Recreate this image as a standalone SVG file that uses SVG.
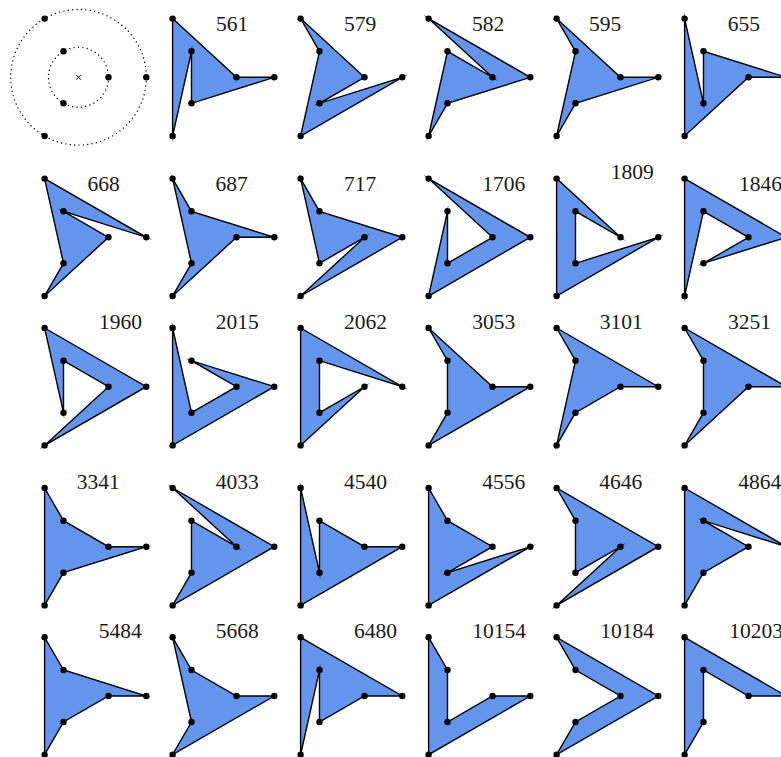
<svg xmlns="http://www.w3.org/2000/svg" xmlns:xlink="http://www.w3.org/1999/xlink" width="781" height="757" viewBox="0 0 781 757">
<style>
.poly{fill:#6495ED;stroke:#000;stroke-width:1.4;stroke-linejoin:miter;stroke-miterlimit:10}
.dot{fill:#000}
.lbl{font-family:"Liberation Serif","DejaVu Serif",serif;font-size:21.5px;fill:#1a1a1a;text-anchor:middle}
.circ{fill:none;stroke:#000;stroke-width:1.4;stroke-linecap:round;stroke-dasharray:0.01 4.4}
</style>
<defs>
<g id="pts">
<circle class="dot" cx="67.8" cy="0" r="3.2"/>
<circle class="dot" cx="-33.9" cy="-58.7" r="3.2"/>
<circle class="dot" cx="-33.9" cy="58.7" r="3.2"/>
<circle class="dot" cx="30" cy="0" r="3.2"/>
<circle class="dot" cx="-15" cy="-26" r="3.2"/>
<circle class="dot" cx="-15" cy="26" r="3.2"/>
</g>
</defs>
<rect width="781" height="757" fill="#fff"/>
<g id="legend" transform="translate(78.5,77.3)">
<circle class="circ" cx="0" cy="0" r="67.8"/>
<circle class="circ" cx="0" cy="0" r="30"/>
<path d="M-2.5,-2.5L2.5,2.5M-2.5,2.5L2.5,-2.5" stroke="#000" stroke-width="0.9"/>
<use href="#pts"/>
</g>
<g id="connectors"></g>
<!-- row 1 -->
<g id="n561" transform="translate(206.5,77.3)">
<polygon class="poly" points="-33.9,-58.7 30,0 67.8,0 -15,26 -15,-26 -33.9,58.7"/>
<use href="#pts"/><text class="lbl" x="25.5" y="-46.8">561</text></g>
<g id="n579" transform="translate(334.5,77.3)">
<polygon class="poly" points="-33.9,-58.7 30,0 -15,26 67.8,0 -33.9,58.7 -15,-26"/>
<use href="#pts"/><text class="lbl" x="25.5" y="-46.8">579</text></g>
<g id="n582" transform="translate(462.5,77.3)">
<polygon class="poly" points="-33.9,-58.7 30,0 -15,-26 -33.9,58.7 -15,26 67.8,0"/>
<use href="#pts"/><text class="lbl" x="25.5" y="-46.8">582</text></g>
<g id="n595" transform="translate(590.5,77.3)">
<polygon class="poly" points="-33.9,-58.7 -15,-26 -33.9,58.7 -15,26 67.8,0 30,0"/>
<use href="#pts"/><text class="lbl" x="14.5" y="-46.8">595</text></g>
<g id="n655" transform="translate(718.5,77.3)">
<polygon class="poly" points="-33.9,-58.7 -15,26 -15,-26 67.8,0 30,0 -33.9,58.7"/>
<use href="#pts"/><text class="lbl" x="25.3" y="-46.8">655</text></g>
<!-- row 2 -->
<g id="n668" transform="translate(78.5,237.3)">
<polygon class="poly" points="-33.9,-58.7 67.8,0 -15,-26 30,0 -33.9,58.7 -15,26"/>
<use href="#pts"/><text class="lbl" x="25.2" y="-46.6">668</text></g>
<g id="n687" transform="translate(206.5,237.3)">
<polygon class="poly" points="-33.9,-58.7 -15,-26 67.8,0 30,0 -33.9,58.7 -15,26"/>
<use href="#pts"/><text class="lbl" x="25.2" y="-46.6">687</text></g>
<g id="n717" transform="translate(334.5,237.3)">
<polygon class="poly" points="-33.9,-58.7 -15,-26 67.8,0 -33.9,58.7 30,0 -15,26"/>
<use href="#pts"/><text class="lbl" x="25.5" y="-46.6">717</text></g>
<g id="n1706" transform="translate(462.5,237.3)">
<polygon class="poly" points="-33.9,-58.7 30,0 -15,26 -15,-26 -33.9,58.7 67.8,0"/>
<use href="#pts"/><text class="lbl" x="41.3" y="-46.6">1706</text></g>
<g id="n1809" transform="translate(590.5,237.3)">
<polygon class="poly" points="-33.9,-58.7 30,0 -15,-26 -15,26 67.8,0 -33.9,58.7"/>
<use href="#pts"/><text class="lbl" x="41.7" y="-58.3">1809</text></g>
<g id="n1846" transform="translate(718.5,237.3)">
<polygon class="poly" points="-33.9,-58.7 67.8,0 -15,26 30,0 -15,-26 -33.9,58.7"/>
<use href="#pts"/><text class="lbl" x="42" y="-46.6">1846</text></g>
<!-- row 3 -->
<g id="n1960" transform="translate(78.5,386.7)">
<polygon class="poly" points="-33.9,-58.7 67.8,0 -33.9,58.7 30,0 -15,-26 -15,26"/>
<use href="#pts"/><text class="lbl" x="42" y="-57.7">1960</text></g>
<g id="n2015" transform="translate(206.5,386.7)">
<polygon class="poly" points="-33.9,-58.7 -15,26 30,0 -15,-26 67.8,0 -33.9,58.7"/>
<use href="#pts"/><text class="lbl" x="30.7" y="-57.7">2015</text></g>
<g id="n2062" transform="translate(334.5,386.7)">
<polygon class="poly" points="-33.9,-58.7 67.8,0 -15,-26 -15,26 30,0 -33.9,58.7"/>
<use href="#pts"/><text class="lbl" x="31" y="-57.7">2062</text></g>
<g id="n3053" transform="translate(462.5,386.7)">
<polygon class="poly" points="-33.9,-58.7 -15,-26 -15,26 -33.9,58.7 67.8,0 30,0"/>
<use href="#pts"/><text class="lbl" x="31.3" y="-57.7">3053</text></g>
<g id="n3101" transform="translate(590.5,386.7)">
<polygon class="poly" points="-33.9,-58.7 67.8,0 30,0 -15,26 -33.9,58.7 -15,-26"/>
<use href="#pts"/><text class="lbl" x="30.7" y="-57.7">3101</text></g>
<g id="n3251" transform="translate(718.5,386.7)">
<polygon class="poly" points="-33.9,-58.7 67.8,0 30,0 -33.9,58.7 -15,26 -15,-26"/>
<use href="#pts"/><text class="lbl" x="31" y="-57.7">3251</text></g>
<!-- row 4 -->
<g id="n3341" transform="translate(78.5,546.7)">
<polygon class="poly" points="-33.9,-58.7 -15,-26 30,0 67.8,0 -15,26 -33.9,58.7"/>
<use href="#pts"/><text class="lbl" x="19.8" y="-57.7">3341</text></g>
<g id="n4033" transform="translate(206.5,546.7)">
<polygon class="poly" points="-33.9,-58.7 30,0 -15,-26 -15,26 -33.9,58.7 67.8,0"/>
<use href="#pts"/><text class="lbl" x="30.7" y="-57.7">4033</text></g>
<g id="n4540" transform="translate(334.5,546.7)">
<polygon class="poly" points="-33.9,-58.7 -15,26 -15,-26 30,0 67.8,0 -33.9,58.7"/>
<use href="#pts"/><text class="lbl" x="31" y="-57.7">4540</text></g>
<g id="n4556" transform="translate(462.5,546.7)">
<polygon class="poly" points="-33.9,-58.7 -15,-26 30,0 -15,26 67.8,0 -33.9,58.7"/>
<use href="#pts"/><text class="lbl" x="41.3" y="-57.7">4556</text></g>
<g id="n4646" transform="translate(590.5,546.7)">
<polygon class="poly" points="-33.9,-58.7 -15,-26 -15,26 30,0 -33.9,58.7 67.8,0"/>
<use href="#pts"/><text class="lbl" x="30.3" y="-57.7">4646</text></g>
<g id="n4864" transform="translate(718.5,546.7)">
<polygon class="poly" points="-33.9,-58.7 67.8,0 -15,-26 30,0 -15,26 -33.9,58.7"/>
<use href="#pts"/><text class="lbl" x="41.3" y="-57.7">4864</text></g>
<!-- row 5 -->
<g id="n5484" transform="translate(78.5,696)">
<polygon class="poly" points="-33.9,-58.7 -15,-26 67.8,0 30,0 -15,26 -33.9,58.7"/>
<use href="#pts"/><text class="lbl" x="41.7" y="-57.7">5484</text></g>
<g id="n5668" transform="translate(206.5,696)">
<polygon class="poly" points="-33.9,-58.7 -15,-26 30,0 67.8,0 -33.9,58.7 -15,26"/>
<use href="#pts"/><text class="lbl" x="30.7" y="-57.7">5668</text></g>
<g id="n6480" transform="translate(334.5,696)">
<polygon class="poly" points="-33.9,-58.7 67.8,0 30,0 -15,26 -15,-26 -33.9,58.7"/>
<use href="#pts"/><text class="lbl" x="41" y="-57.7">6480</text></g>
<g id="n10154" transform="translate(462.5,696)">
<polygon class="poly" points="-33.9,-58.7 -15,-26 -15,26 30,0 67.8,0 -33.9,58.7"/>
<use href="#pts"/><text class="lbl" x="36.7" y="-57.7">10154</text></g>
<g id="n10184" transform="translate(590.5,696)">
<polygon class="poly" points="-33.9,-58.7 -15,-26 30,0 -15,26 -33.9,58.7 67.8,0"/>
<use href="#pts"/><text class="lbl" x="36.7" y="-57.7">10184</text></g>
<g id="n10203" transform="translate(718.5,696)">
<polygon class="poly" points="-33.9,-58.7 67.8,0 30,0 -15,-26 -15,26 -33.9,58.7"/>
<use href="#pts"/><text class="lbl" x="37.5" y="-57.7">10203</text></g>
</svg>
